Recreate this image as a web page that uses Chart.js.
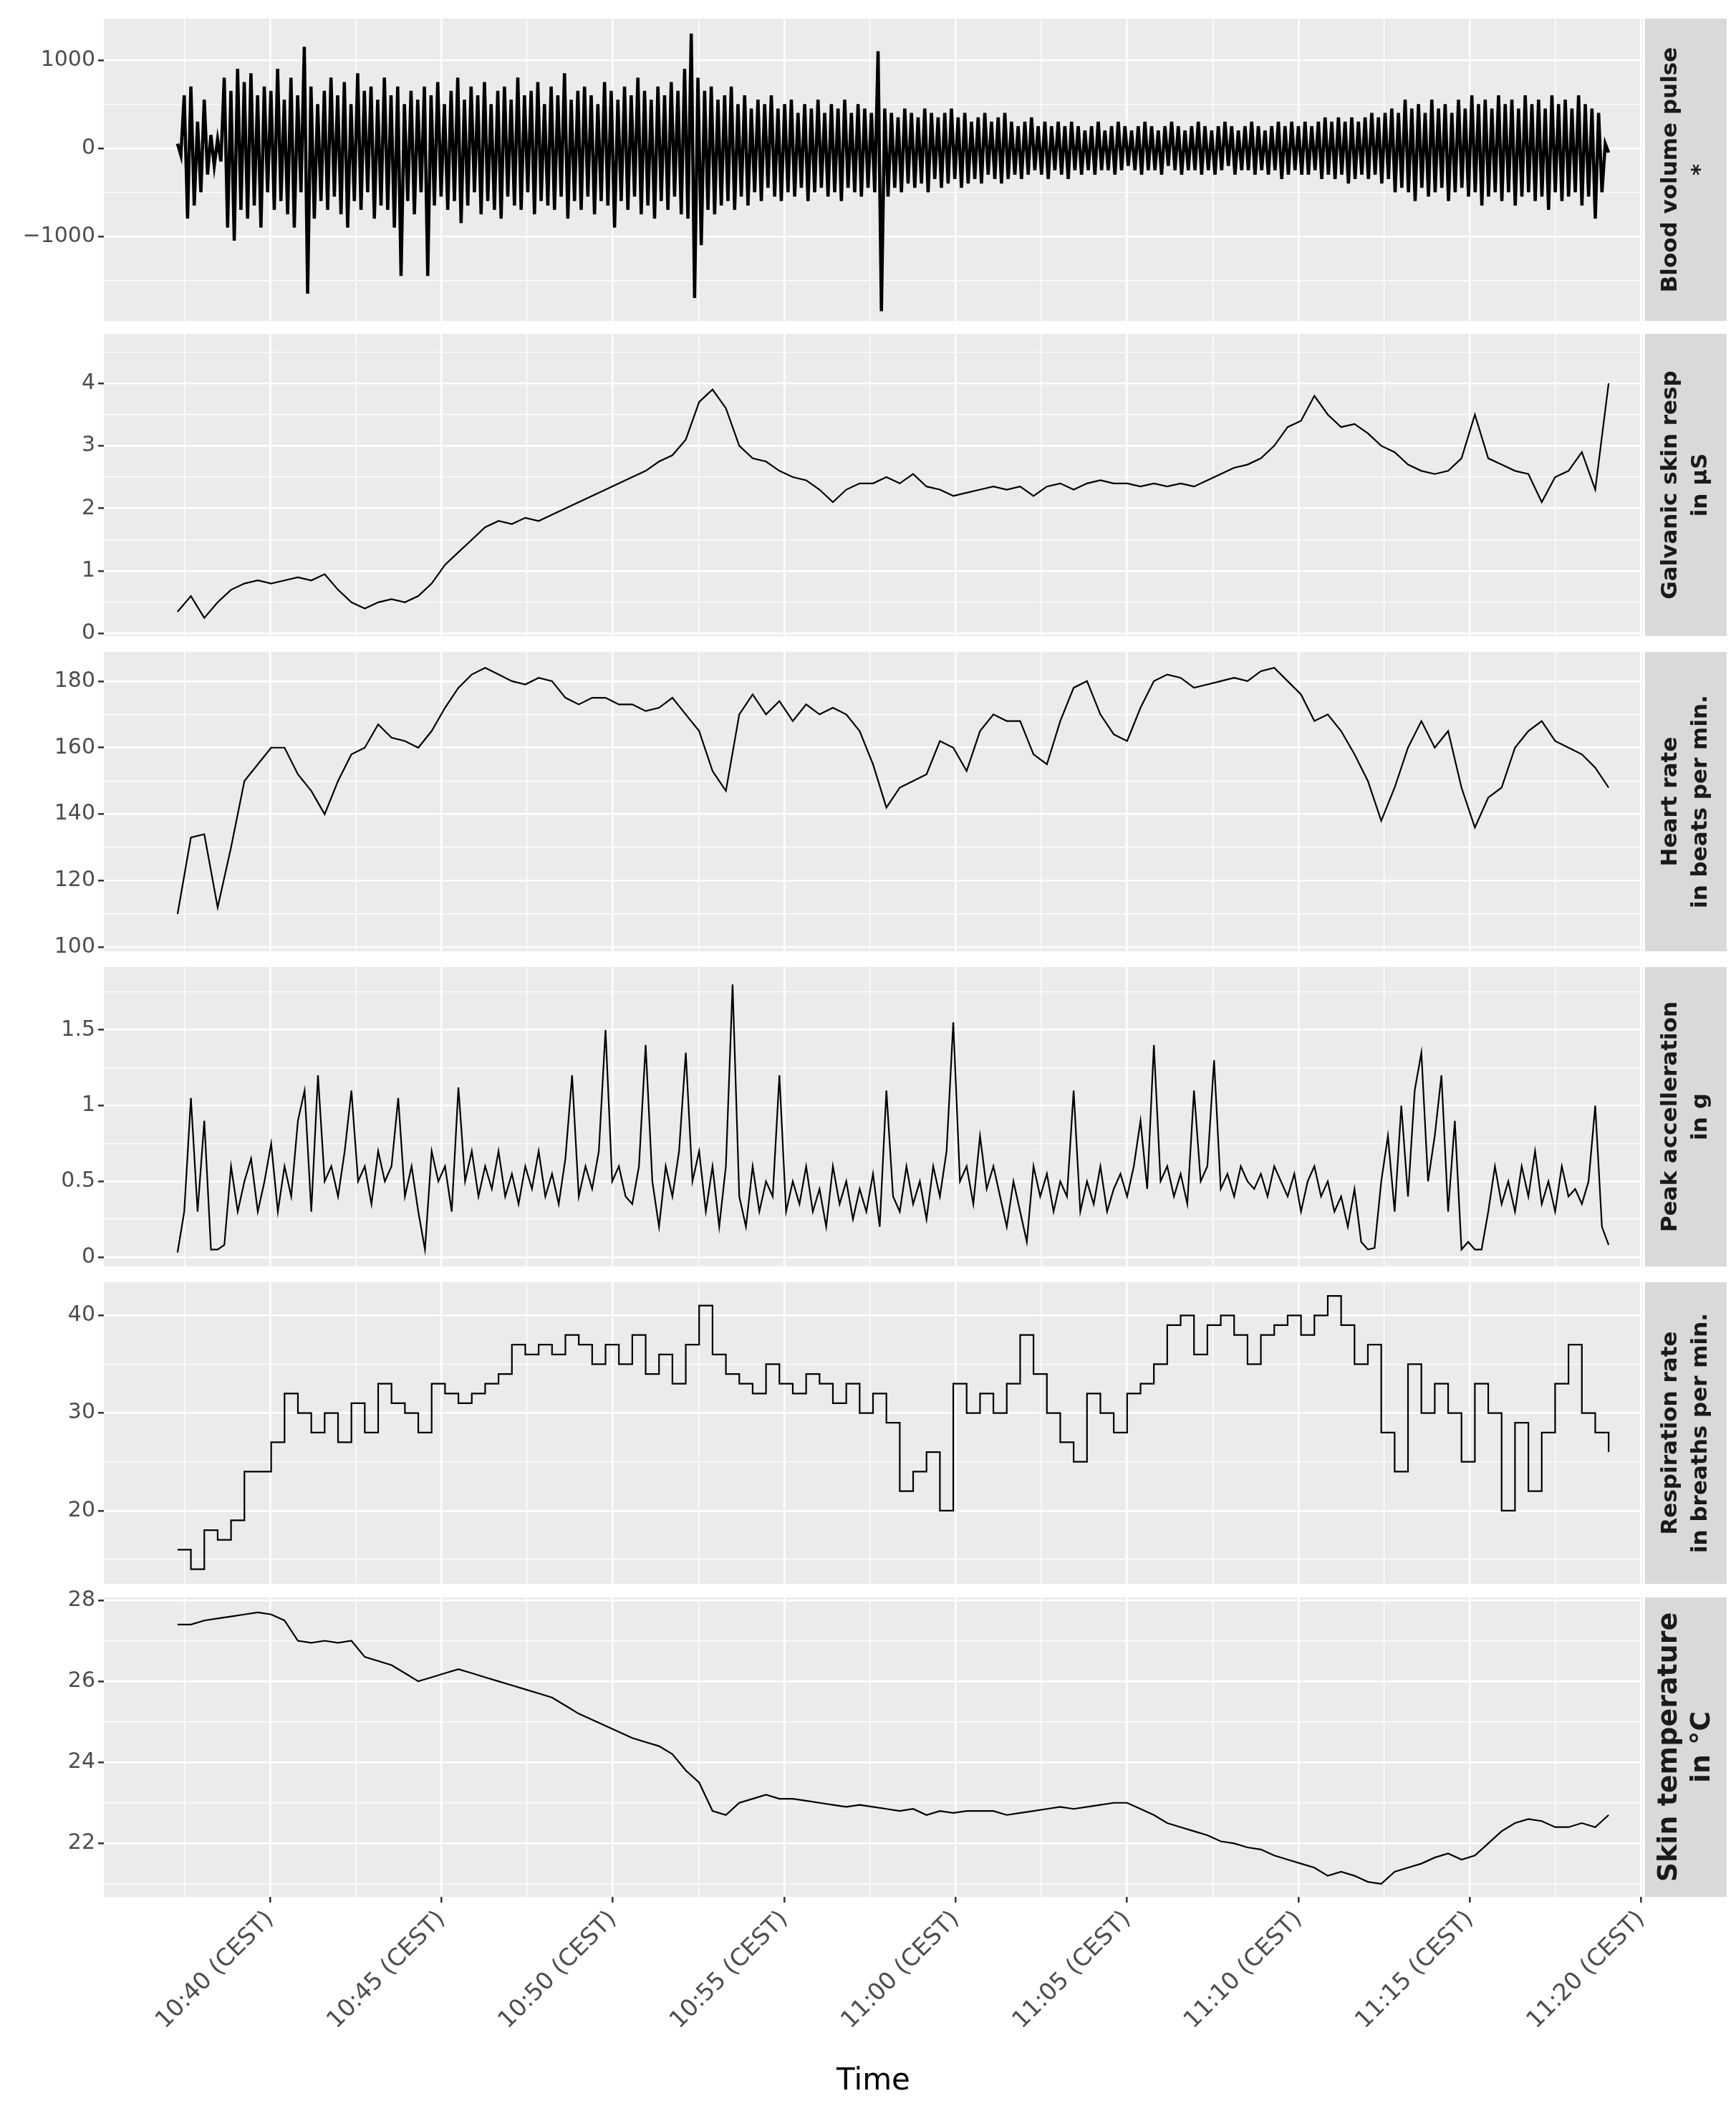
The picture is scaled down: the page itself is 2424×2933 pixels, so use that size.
<!DOCTYPE html>
<html>
<head>
<meta charset="utf-8">
<script src="https://cdn.jsdelivr.net/npm/chart.js@4"></script>
<style>
  body { margin: 0; background: #fff; width: 2424px; height: 2933px; position: relative; overflow: hidden; }
  canvas { position: absolute; left: 0; }
</style>
</head>
<body>
<canvas id="c0"></canvas><canvas id="c1"></canvas><canvas id="c2"></canvas>
<canvas id="c3"></canvas><canvas id="c4"></canvas><canvas id="c5"></canvas>
<script>
// time span of the recording, minutes after 10:00
const startMin = 37.3;
const endMin = 79.05;
const xTicks = ['10:40 (CEST)', '10:45 (CEST)', '10:50 (CEST)', '10:55 (CEST)', '11:00 (CEST)', '11:05 (CEST)', '11:10 (CEST)', '11:15 (CEST)', '11:20 (CEST)'];

const bvp = [50,-80,600,-800,700,-650,300,-500,550,-300,150,-200,100,-150,800,-900,650,-1050,900,-700,
 750,-800,850,-650,600,-900,700,-500,650,-700,900,-600,550,-750,800,-900,600,-500,1150,-1650,
 700,-800,500,-600,650,-700,800,-550,600,-750,750,-900,500,-600,850,-700,650,-500,700,-800,
 550,-650,800,-700,600,-900,700,-1450,500,-600,650,-750,550,-500,700,-1450,600,-650,750,-550,
 500,-700,650,-600,800,-850,550,-650,700,-500,600,-750,750,-600,500,-700,650,-800,700,-550,
 550,-650,800,-700,600,-500,650,-750,750,-600,500,-650,700,-700,600,-550,850,-800,550,-600,
 650,-700,700,-550,600,-750,500,-600,750,-650,650,-900,550,-600,700,-700,600,-550,800,-750,
 650,-650,550,-800,700,-600,600,-700,750,-550,650,-750,900,-800,1300,-1700,800,-1100,650,-700,
 700,-750,550,-650,600,-600,700,-700,500,-550,600,-650,450,-500,550,-600,500,-450,600,-550,
 450,-600,500,-500,550,-550,400,-450,500,-600,450,-500,550,-450,400,-550,500,-500,450,-600,
 550,-450,400,-500,500,-550,450,-450,400,-500,1100,-1850,450,-550,400,-450,350,-500,450,-400,
 400,-450,350,-400,450,-500,400,-350,350,-450,400,-400,450,-350,350,-450,400,-400,300,-350,
 350,-400,400,-300,300,-350,350,-400,400,-350,300,-300,250,-350,300,-300,350,-250,250,-300,
 300,-350,250,-250,300,-300,250,-350,300,-250,250,-300,200,-250,250,-300,300,-250,200,-250,
 250,-300,300,-250,250,-200,200,-250,250,-300,300,-250,250,-250,200,-300,250,-200,300,-250,
 250,-300,200,-250,250,-250,300,-300,250,-250,200,-300,250,-250,300,-200,250,-300,200,-250,
 250,-250,300,-300,250,-250,200,-300,250,-250,300,-350,250,-300,300,-250,250,-300,300,-300,
 250,-250,300,-350,350,-300,300,-350,350,-300,300,-400,350,-350,300,-300,350,-350,400,-300,
 350,-400,400,-350,450,-500,400,-450,550,-500,450,-600,500,-450,400,-550,550,-500,450,-450,
 500,-600,400,-500,550,-450,450,-550,600,-500,500,-650,550,-550,450,-500,600,-600,500,-500,
 550,-650,450,-550,600,-500,500,-600,550,-550,450,-700,600,-500,500,-600,550,-550,450,-500,
 600,-650,500,-550,450,-800,400,-500,50,-50];

const gsr = [0.35,0.6,0.25,0.5,0.7,0.8,0.85,0.8,0.85,0.9,0.85,0.95,0.7,0.5,0.4,0.5,0.55,0.5,0.6,0.8,
 1.1,1.3,1.5,1.7,1.8,1.75,1.85,1.8,1.9,2.0,2.1,2.2,2.3,2.4,2.5,2.6,2.75,2.85,3.1,3.7,
 3.9,3.6,3.0,2.8,2.75,2.6,2.5,2.45,2.3,2.1,2.3,2.4,2.4,2.5,2.4,2.55,2.35,2.3,2.2,2.25,
 2.3,2.35,2.3,2.35,2.2,2.35,2.4,2.3,2.4,2.45,2.4,2.4,2.35,2.4,2.35,2.4,2.35,2.45,2.55,2.65,
 2.7,2.8,3.0,3.3,3.4,3.8,3.5,3.3,3.35,3.2,3.0,2.9,2.7,2.6,2.55,2.6,2.8,3.5,2.8,2.7,
 2.6,2.55,2.1,2.5,2.6,2.9,2.3,4.0];

const heartRate = [110,133,134,112,130,150,155,160,160,152,147,140,150,158,160,167,163,162,160,165,
 172,178,182,184,182,180,179,181,180,175,173,175,175,173,173,171,172,175,170,165,
 153,147,170,176,170,174,168,173,170,172,170,165,155,142,148,150,152,162,160,153,
 165,170,168,168,158,155,168,178,180,170,164,162,172,180,182,181,178,179,180,181,
 180,183,184,180,176,168,170,165,158,150,138,148,160,168,160,165,148,136,145,148,
 160,165,168,162,160,158,154,148];

const accel = [0.03,0.3,1.05,0.3,0.9,0.05,0.05,0.08,0.6,0.3,0.5,0.65,0.3,0.5,0.75,0.3,0.6,0.4,0.9,1.1,
 0.3,1.2,0.5,0.6,0.4,0.7,1.1,0.5,0.6,0.35,0.7,0.5,0.6,1.05,0.4,0.6,0.3,0.05,0.7,0.5,
 0.6,0.3,1.12,0.5,0.7,0.4,0.6,0.45,0.7,0.4,0.55,0.35,0.6,0.45,0.7,0.4,0.55,0.35,0.65,1.2,
 0.4,0.6,0.45,0.7,1.5,0.5,0.6,0.4,0.35,0.6,1.4,0.5,0.2,0.6,0.4,0.7,1.35,0.5,0.7,0.3,
 0.6,0.2,0.6,1.8,0.4,0.2,0.6,0.3,0.5,0.4,1.2,0.3,0.5,0.35,0.6,0.3,0.45,0.2,0.6,0.35,
 0.5,0.25,0.45,0.3,0.55,0.2,1.1,0.4,0.3,0.6,0.35,0.5,0.25,0.6,0.4,0.7,1.55,0.5,0.6,0.35,
 0.8,0.45,0.6,0.4,0.2,0.5,0.3,0.1,0.6,0.4,0.55,0.3,0.5,0.4,1.1,0.3,0.5,0.35,0.6,0.3,
 0.45,0.55,0.4,0.6,0.9,0.45,1.4,0.5,0.6,0.4,0.55,0.35,1.1,0.5,0.6,1.3,0.45,0.55,0.4,0.6,
 0.5,0.45,0.55,0.4,0.6,0.5,0.4,0.55,0.3,0.5,0.6,0.4,0.5,0.3,0.4,0.2,0.45,0.1,0.05,0.06,
 0.5,0.8,0.3,1.0,0.4,1.1,1.35,0.5,0.8,1.2,0.3,0.9,0.05,0.1,0.05,0.05,0.3,0.6,0.35,0.5,
 0.3,0.6,0.4,0.7,0.35,0.5,0.3,0.6,0.4,0.45,0.35,0.5,1.0,0.2,0.08];

const respRate = [16,14,18,17,19,24,24,27,32,30,28,30,27,31,28,33,31,30,28,33,
 32,31,32,33,34,37,36,37,36,38,37,35,37,35,38,34,36,33,37,41,
 36,34,33,32,35,33,32,34,33,31,33,30,32,29,22,24,26,20,33,30,
 32,30,33,38,34,30,27,25,32,30,28,32,33,35,39,40,36,39,40,38,
 35,38,39,40,38,40,42,39,35,37,28,24,35,30,33,30,25,33,30,20,
 29,22,28,33,37,30,28,26];

const skinTemp = [27.4,27.4,27.5,27.55,27.6,27.65,27.7,27.65,27.5,27.0,26.95,27.0,26.95,27.0,26.6,26.5,26.4,26.2,26.0,26.1,
 26.2,26.3,26.2,26.1,26.0,25.9,25.8,25.7,25.6,25.4,25.2,25.05,24.9,24.75,24.6,24.5,24.4,24.2,23.8,23.5,
 22.8,22.7,23.0,23.1,23.2,23.1,23.1,23.05,23.0,22.95,22.9,22.95,22.9,22.85,22.8,22.85,22.7,22.8,22.75,22.8,
 22.8,22.8,22.7,22.75,22.8,22.85,22.9,22.85,22.9,22.95,23.0,23.0,22.85,22.7,22.5,22.4,22.3,22.2,22.05,22.0,
 21.9,21.85,21.7,21.6,21.5,21.4,21.2,21.3,21.2,21.05,21.0,21.3,21.4,21.5,21.65,21.75,21.6,21.7,22.0,22.3,
 22.5,22.6,22.55,22.4,22.4,22.5,22.4,22.7];

// spread samples evenly over the recording
function timed(vals) {
    const n = vals.length;
    return vals.map((v, i) => ({ x: startMin + i * (endMin - startMin) / (n - 1), y: v }));
}

const panels = [
    { id: 'c0', top: 26, bottom: 448, data: bvp, min: -1960, max: 1470, step: 500, major: 1000, strip: ['Blood volume pulse', '*'], fmt: v => v < 0 ? '\u2212' + Math.abs(v) : String(v), width: 4.5 },
    { id: 'c1', top: 466, bottom: 888, data: gsr, min: -0.04, max: 4.79, step: 0.5, major: 1, strip: ['Galvanic skin resp', 'in µS'] },
    { id: 'c2', top: 910, bottom: 1328, data: heartRate, min: 98.8, max: 188.8, step: 10, major: 20, strip: ['Heart rate', 'in beats per min.'] },
    { id: 'c3', top: 1350, bottom: 1768, data: accel, min: -0.062, max: 1.915, step: 0.25, major: 0.5, strip: ['Peak accelleration', 'in g'] },
    { id: 'c4', top: 1790, bottom: 2211, data: respRate, min: 12.5, max: 43.4, step: 5, major: 10, strip: ['Respiration rate', 'in breaths per min.'], stepped: true },
    { id: 'c5', top: 2230, bottom: 2648, data: skinTemp, min: 20.68, max: 28.07, step: 1, major: 2, strip: ['Skin temperature', 'in °C'], bigStrip: true, last: true }
];

const isMajor = (v, m) => Math.abs(v / m - Math.round(v / m)) < 1e-6;

function stepTicks(scale, step) {
    const out = [];
    for (let k = Math.ceil(scale.min / step - 1e-9); k * step <= scale.max + 1e-9; k++) {
        out.push({ value: Math.round(k * step * 1000) / 1000 });
    }
    scale.ticks = out;
}

const panelPlugin = {
    id: 'panel',
    beforeDraw(chart, args, opts) {
        const a = chart.chartArea, c = chart.ctx;
        c.save();
        c.fillStyle = '#ebebeb';
        c.fillRect(a.left, a.top, a.right - a.left, a.bottom - a.top);
        c.restore();
    },
    afterDraw(chart, args, opts) {
        const a = chart.chartArea, c = chart.ctx;
        c.save();
        c.fillStyle = '#d9d9d9';
        c.fillRect(2297, a.top, 114, a.bottom - a.top);
        c.translate(2354, (a.top + a.bottom) / 2);
        c.rotate(-Math.PI / 2);
        c.fillStyle = '#1a1a1a';
        c.textAlign = 'center';
        c.textBaseline = 'middle';
        const fs = opts.big ? 38 : 31;
        c.font = 'bold ' + fs + 'px "DejaVu Sans"';
        const lines = opts.lines;
        const lh = opts.big ? 46 : 42;
        lines.forEach((t, i) => c.fillText(t, 0, (i - (lines.length - 1) / 2) * lh));
        c.restore();
    }
};

function makeConfig(p) {
    return {
        type: 'line',
        data: { datasets: [{ data: timed(p.data), borderColor: '#000', borderWidth: p.width || 2.2, pointRadius: 0, tension: 0, stepped: p.stepped ? 'before' : false }] },
        options: {
            responsive: false, animation: false, devicePixelRatio: 1,
            layout: { padding: { left: 0, right: 130, top: 0, bottom: 0 } },
            plugins: { legend: { display: false }, tooltip: { enabled: false }, panel: { lines: p.strip, big: p.bigStrip } },
            scales: {
                x: {
                    type: 'linear', min: 35.15, max: 80.05,
                    afterBuildTicks: s => stepTicks(s, 2.5),
                    afterFit: s => { s.height = p.last ? 2933 - p.bottom : 0; },
                    border: { display: false },
                    grid: {
                        color: '#fff', drawTicks: !!p.last, tickLength: 8, tickWidth: 2.5,
                        lineWidth: ctx => isMajor(ctx.tick.value, 5) ? 2.6 : 1.3,
                        tickColor: ctx => isMajor(ctx.tick.value, 5) ? '#333' : 'rgba(0,0,0,0)'
                    },
                    ticks: {
                        display: !!p.last, autoSkip: false,
                        minRotation: 45, maxRotation: 45, color: '#4d4d4d', padding: 4,
                        font: { family: '"DejaVu Sans"', size: 33 },
                        callback: v => isMajor(v, 5) ? xTicks[Math.round((v - 40) / 5)] : ''
                    },
                    title: { display: !!p.last, text: 'Time', color: '#000', font: { family: '"DejaVu Sans"', size: 42 }, padding: { top: 4, bottom: 2 } }
                },
                y: {
                    min: p.min, max: p.max,
                    afterBuildTicks: s => stepTicks(s, p.step),
                    afterFit: s => { s.width = 145; },
                    border: { display: false },
                    grid: {
                        color: '#fff', tickLength: 8, tickWidth: 2.5,
                        lineWidth: ctx => isMajor(ctx.tick.value, p.major) ? 2.6 : 1.3,
                        tickColor: ctx => isMajor(ctx.tick.value, p.major) ? '#333' : 'rgba(0,0,0,0)'
                    },
                    ticks: {
                        autoSkip: false, color: '#4d4d4d', padding: 4,
                        font: { family: '"DejaVu Sans"', size: 30 },
                        callback: v => isMajor(v, p.major) ? (p.fmt ? p.fmt(Math.round(v)) : String(Math.round(v * 100) / 100)) : ''
                    }
                }
            }
        },
        plugins: [panelPlugin]
    };
}

panels.forEach(p => {
    const cv = document.getElementById(p.id);
    const h = p.last ? 2933 - p.top : p.bottom - p.top;
    cv.width = 2424; cv.height = h;
    cv.style.width = '2424px'; cv.style.height = h + 'px';
    // first pass: find how much padding Chart.js puts around the plot area
    let chart = new Chart(cv, makeConfig(p));
    const dTop = chart.chartArea.top;
    const dBot = p.last ? 0 : h - chart.chartArea.bottom;
    chart.destroy();
    const h2 = h + dTop + dBot;
    cv.width = 2424; cv.height = h2;
    cv.style.width = '2424px'; cv.style.height = h2 + 'px';
    cv.style.top = (p.top - dTop) + 'px';
    new Chart(cv, makeConfig(p));
});
</script>
</body>
</html>
